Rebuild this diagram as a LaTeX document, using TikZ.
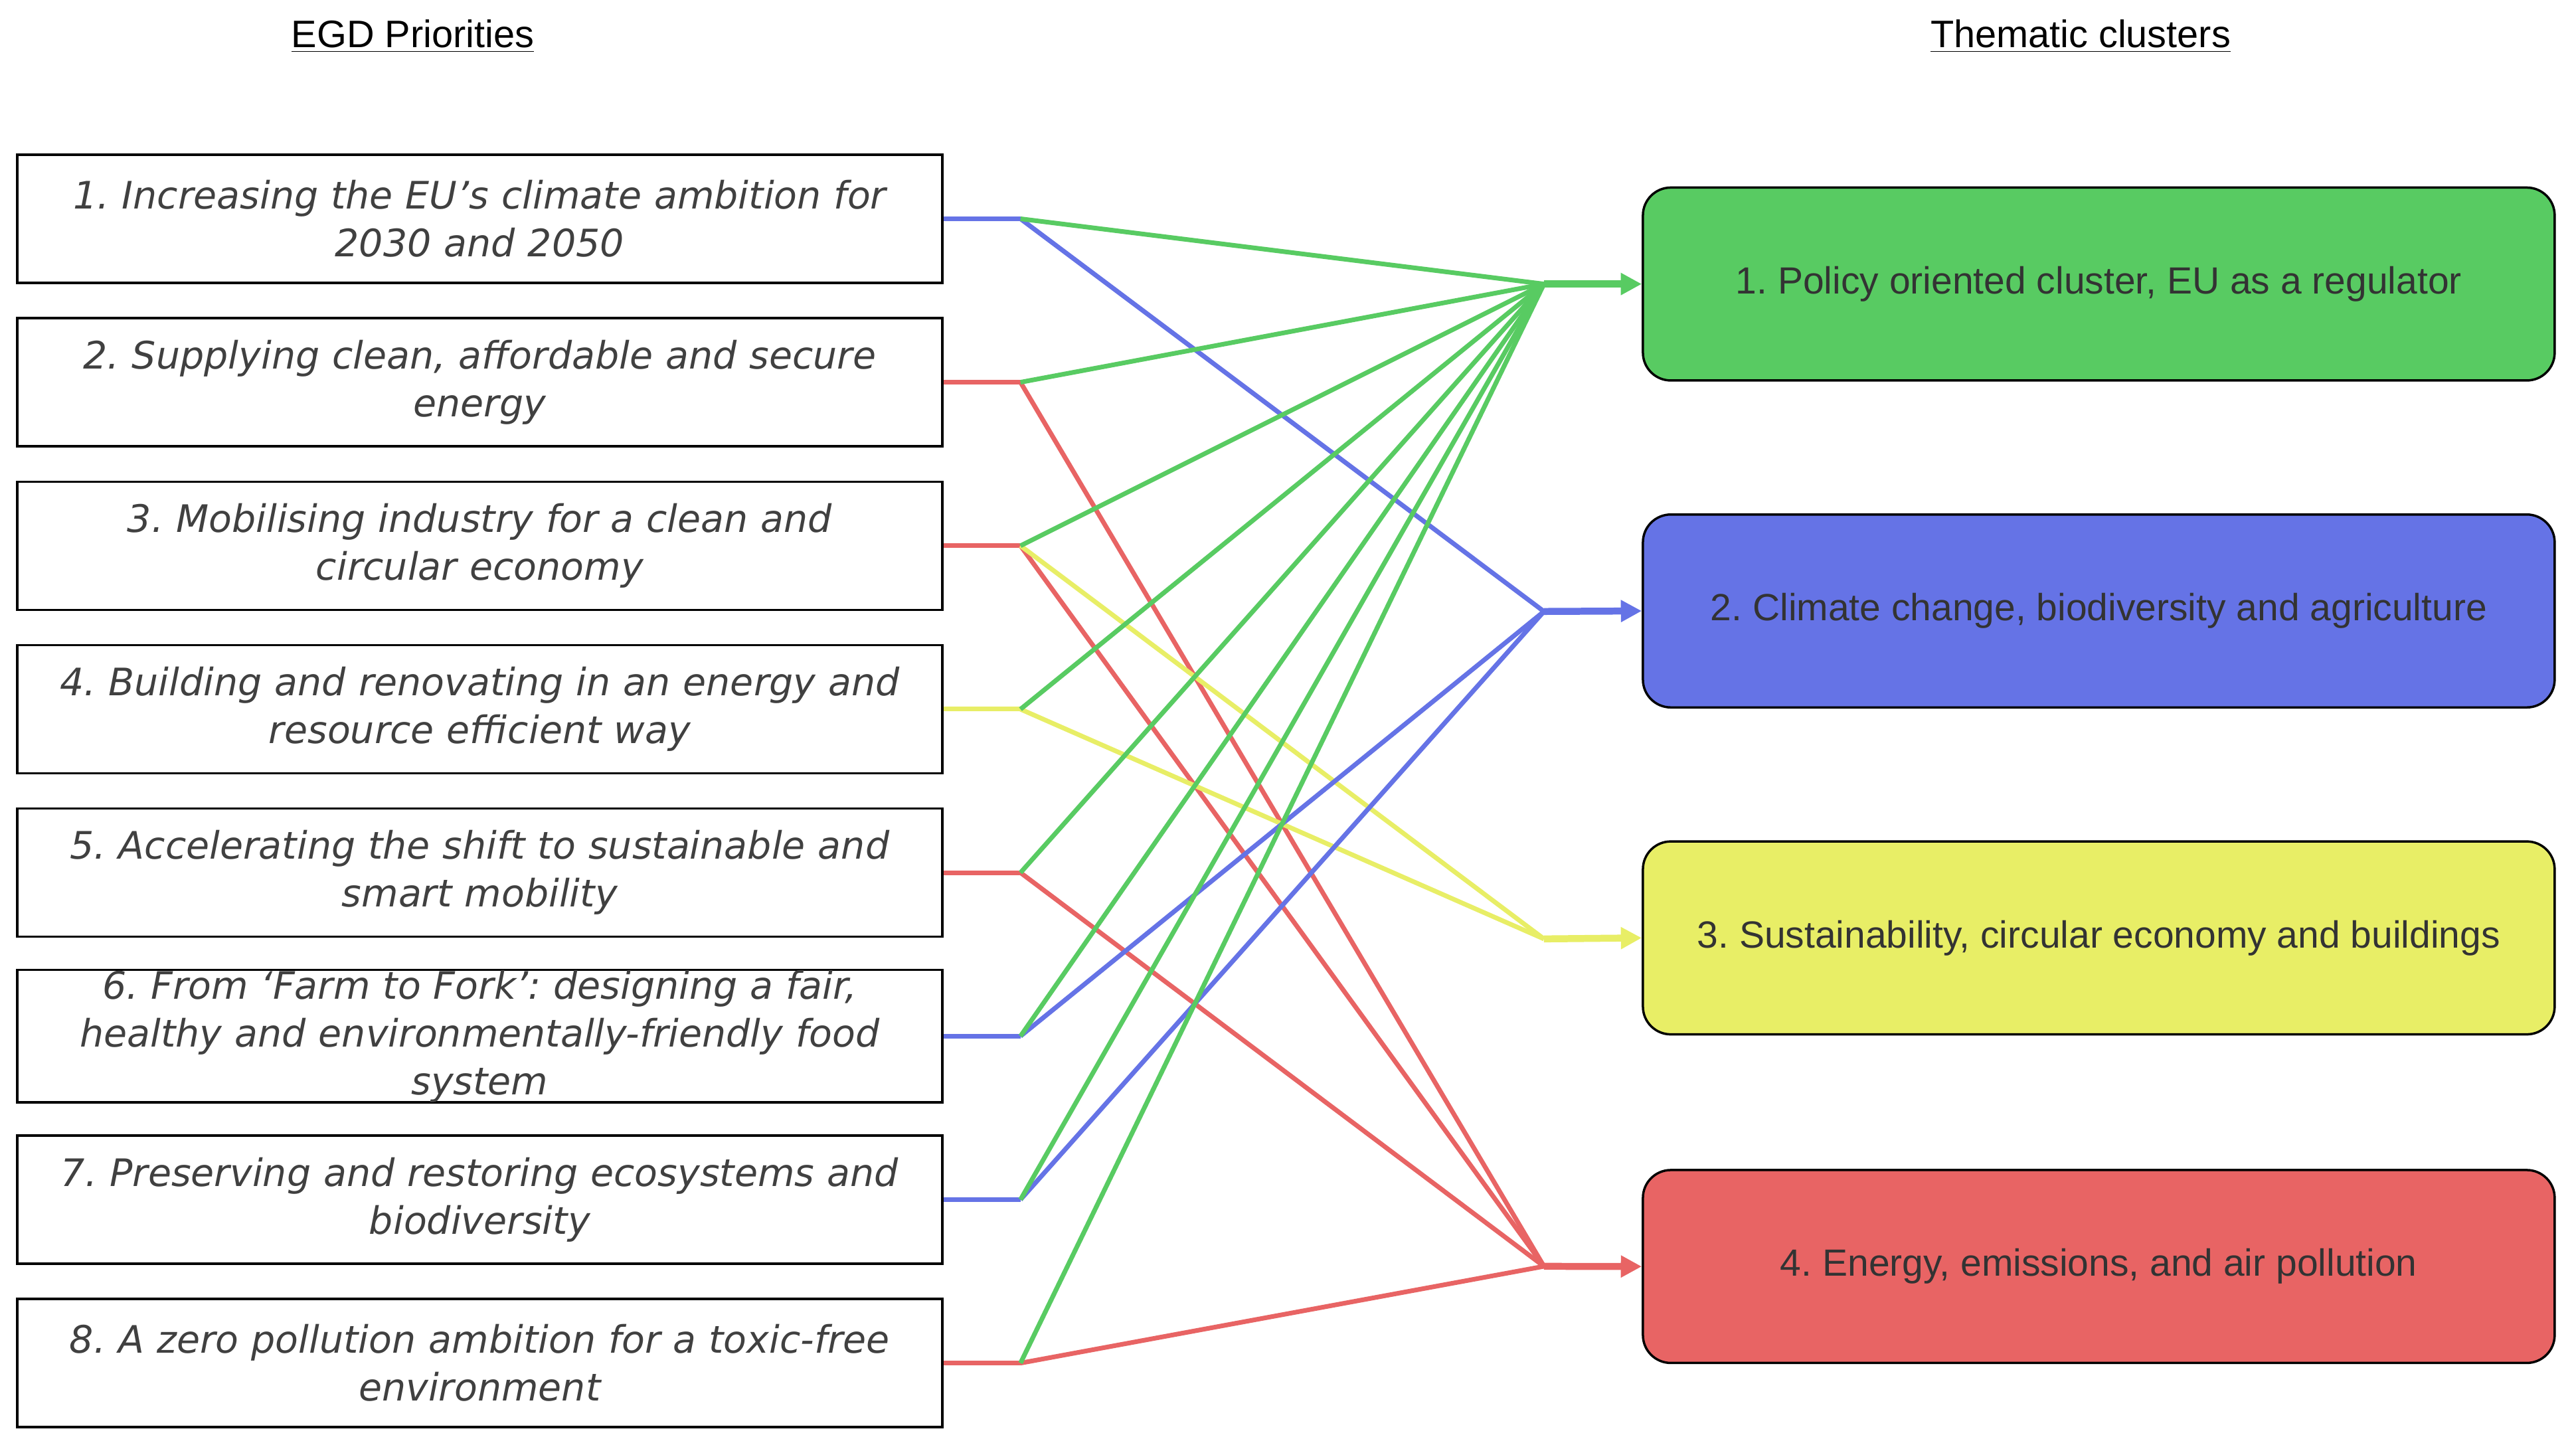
\documentclass[tikz,border=0pt]{standalone}
\usepackage{fontspec}
\setmainfont{Liberation Sans}
\newfontfamily\prioritiesfont{DejaVu Sans}
\usetikzlibrary{arrows.meta, positioning}

\definecolor{clgreen}{RGB}{88,203,98}
\definecolor{clblue}{RGB}{101,115,230}
\definecolor{clyellow}{RGB}{232,238,102}
\definecolor{clred}{RGB}{232,100,100}

\begin{document}
\frenchspacing
\begin{tikzpicture}[
        x=0.025cm, y=-0.025cm,
        % Estilos para las prioridades
        priority/.style={
                rectangle,
                draw=black,
                line width=1pt,
                minimum width=13.33cm,
                minimum height=1.94cm,
                text width=14cm,
                align=center,
                inner sep=0pt,
                font=\prioritiesfont\itshape\fontsize{16.3}{20.6}\selectfont,
                text=black!75
            },
        % Estilo para los clusters
        cluster/.style={
                rectangle,
                rounded corners=12pt,
                draw=black,
                line width=1pt,
                minimum width=13.8cm,
                minimum height=2.92cm,
                align=center,
                font=\fontsize{16.3}{19}\selectfont,
                text=black!80
            },
        % Enlaces
        link/.style={line width=2pt},
        arrow/.style={-{Triangle[length=9pt,width=9pt]}, line width=3pt},
        heading/.style={font=\fontsize{16.5}{19}\selectfont}
    ]

    \useasboundingbox (0,0) rectangle (1560,875);

    % Títulos
    \node[heading] (htitle1) at (250,22) {\underline{EGD Priorities}};
    \node[heading] (htitle2) at (1260,22) {\underline{Thematic clusters}};

    % Prioridades
    \foreach \i/\txt in {
        1/{1. Increasing the EU’s climate ambition for\\2030 and 2050},
        2/{2. Supplying clean, affordable and secure\\energy},
        3/{3. Mobilising industry for a clean and\\circular economy},
        4/{4. Building and renovating in an energy and\\resource efficient way},
        5/{5. Accelerating the shift to sustainable and\\smart mobility},
        6/{6. From ‘Farm to Fork’: designing a fair,\\healthy and environmentally-friendly food\\system},
        7/{7. Preserving and restoring ecosystems and\\biodiversity},
        8/{8. A zero pollution ambition for a toxic-free\\environment}} {
        \node[priority] (p\i) at (290.5,{132.5+99*(\i-1)}) {\txt};
        \coordinate (j\i) at (618,{132.5+99*(\i-1)});
    }

    % Clusters
    \node[cluster, fill=clgreen] (c1) at (1271,172) {1. Policy oriented cluster, EU as a regulator};
    \node[cluster, fill=clblue] (c2) at (1271,370) {2. Climate change, biodiversity and agriculture};
    \node[cluster, fill=clyellow] (c3) at (1271,568) {3. Sustainability, circular economy and buildings};
    \node[cluster, fill=clred] (c4) at (1271,767) {4. Energy, emissions, and air pollution};

    \foreach \k in {1,...,4}
        \coordinate (h\k) at (935,{172+198.3*(\k-1)});

    % Tramos cortos
    \foreach \i/\col in {1/clblue,2/clred,3/clred,4/clyellow,5/clred,6/clblue,7/clblue,8/clred}
        \draw[link, \col] (p\i.east) -- (j\i);

    % Conexiones
    \foreach \i/\k/\col in {1/2/clblue, 2/4/clred, 3/4/clred, 5/4/clred, 8/4/clred,
        3/3/clyellow, 4/3/clyellow, 6/2/clblue, 7/2/clblue}
        \draw[link, \col] (j\i) -- (h\k);
    \foreach \i in {1,...,8}
        \draw[link, clgreen] (j\i) -- (h1);

    % Flechas
    \draw[arrow, clgreen] (h1) -- (c1.west);
    \draw[arrow, clblue] (h2) -- (c2.west);
    \draw[arrow, clyellow] (h3) -- (c3.west);
    \draw[arrow, clred] (h4) -- (c4.west);

\end{tikzpicture}
\end{document}
